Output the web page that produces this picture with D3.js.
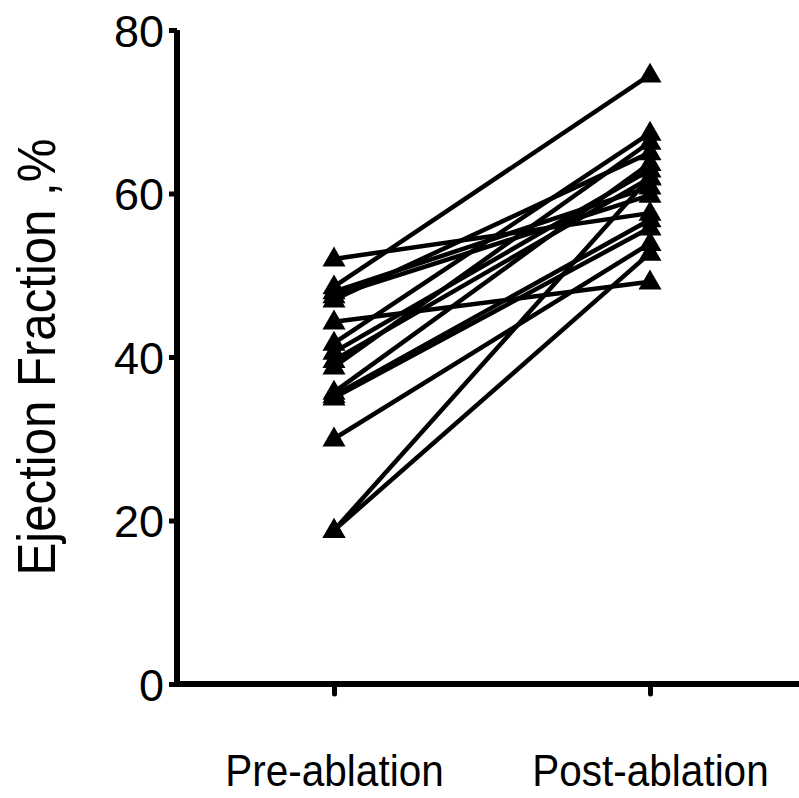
<!DOCTYPE html>
<html>
<head>
<meta charset="utf-8">
<script src="https://cdn.jsdelivr.net/npm/d3@7"></script>
<style>
  body { margin: 0; background: #fff; }
  text { font-family: "Liberation Sans", Arial, sans-serif; fill: #000; }
</style>
</head>
<body>
<svg id="chart" width="799" height="798"></svg>
<script>
// paired values, one entry per patient
var groups = ['Pre-ablation', 'Post-ablation'];
var preValues  = [52.0, 48.6, 48.0, 47.5, 47.0, 44.3, 41.7, 40.6, 39.6, 38.8, 35.7, 35.3, 35.0, 30.0, 18.8, 18.8];
var postValues = [57.6, 74.5, 60.8, 59.8, 65.0, 49.2, 67.4, 62.9, 61.9, 66.3, 63.7, 56.8, 55.8, 53.9, 62.0, 52.7];
var yTicks = [0, 20, 40, 60, 80];

var svg = d3.select('#chart');

var y = d3.scaleLinear().domain([0, 80]).range([684, 30]);
var x = d3.scalePoint().domain(groups).range([334, 650]);

// y axis
var yAxis = svg.append('g')
   .attr('transform', 'translate(177,0)')
   .call(d3.axisLeft(y).tickValues(yTicks).tickSize(8).tickPadding(5));
yAxis.select('.domain').attr('d', 'M0,' + y(80) + 'V' + y(0)).attr('stroke-width', 6);
yAxis.selectAll('.tick line').attr('stroke-width', 5);
yAxis.selectAll('.tick text')
   .style('font-size', '45px')
   .attr('dy', '0.36em');

// x axis
var xAxis = svg.append('g')
   .attr('transform', 'translate(0,' + y(0) + ')')
   .call(d3.axisBottom(x).tickSize(10));
xAxis.select('.domain').attr('d', 'M174,0H799').attr('stroke-width', 6);
xAxis.selectAll('.tick line').attr('stroke-width', 5).attr('stroke-linecap', 'round');
xAxis.selectAll('.tick text').remove();
xAxis.selectAll('.tick').append('text')
   .attr('transform', 'translate(0,102) scale(0.9,1)')
   .attr('text-anchor', 'middle')
   .attr('fill', '#000')
   .style('font-size', '45px')
   .text(function(d){ return d; });

// axis title
svg.append('text')
   .attr('transform', 'translate(55,' + y(40) + ') rotate(-90) scale(0.91,1)')
   .attr('text-anchor', 'middle')
   .style('font-size', '54px')
   .text('Ejection Fraction ,%');

var pairs = preValues.map(function(v, i){ return [v, postValues[i]]; });

svg.append('g').selectAll('line')
   .data(pairs)
   .enter().append('line')
   .attr('x1', x(groups[0]))
   .attr('y1', function(d){ return y(d[0]); })
   .attr('x2', x(groups[1]))
   .attr('y2', function(d){ return y(d[1]); })
   .attr('stroke', '#000')
   .attr('stroke-width', 4.5);

var tri = d3.symbol().type(d3.symbolTriangle).size(230);
var pts = [];
pairs.forEach(function(d){
   pts.push([groups[0], d[0]]);
   pts.push([groups[1], d[1]]);
});
svg.append('g').selectAll('path')
   .data(pts)
   .enter().append('path')
   .attr('d', tri)
   .attr('transform', function(d){ return 'translate(' + x(d[0]) + ',' + (y(d[1]) + 1) + ')'; })
   .attr('fill', '#000');
</script>
</body>
</html>
